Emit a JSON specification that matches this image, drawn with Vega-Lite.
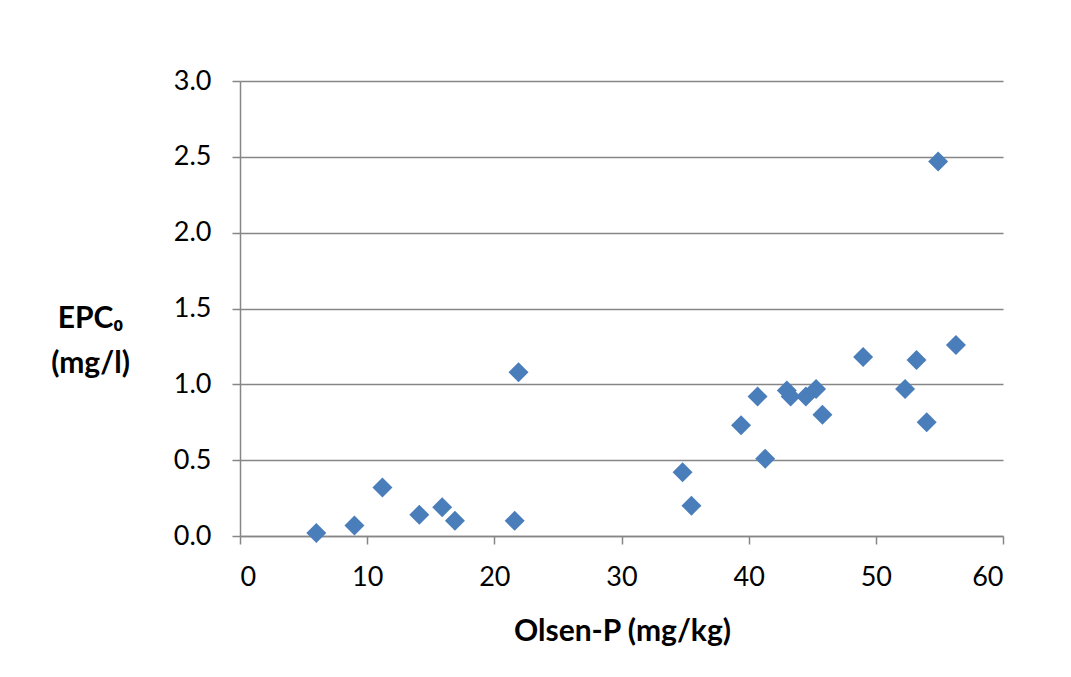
{
  "$schema": "https://vega.github.io/schema/vega-lite/v6.json",
  "width": 763,
  "height": 455,
  "autosize": {"type": "none"},
  "padding": {"left": 240, "top": 81, "right": 68, "bottom": 141},
  "background": "white",
  "data": {
    "values": [
      {"olsen_p": 6.0, "epc0": 0.02},
      {"olsen_p": 9.0, "epc0": 0.07},
      {"olsen_p": 11.2, "epc0": 0.32},
      {"olsen_p": 14.1, "epc0": 0.14},
      {"olsen_p": 15.9, "epc0": 0.19},
      {"olsen_p": 16.9, "epc0": 0.10},
      {"olsen_p": 21.6, "epc0": 0.10},
      {"olsen_p": 21.9, "epc0": 1.08},
      {"olsen_p": 34.8, "epc0": 0.42},
      {"olsen_p": 35.5, "epc0": 0.20},
      {"olsen_p": 39.4, "epc0": 0.73},
      {"olsen_p": 40.7, "epc0": 0.92},
      {"olsen_p": 41.3, "epc0": 0.51},
      {"olsen_p": 43.0, "epc0": 0.96},
      {"olsen_p": 43.3, "epc0": 0.92},
      {"olsen_p": 44.5, "epc0": 0.92},
      {"olsen_p": 45.3, "epc0": 0.97},
      {"olsen_p": 45.8, "epc0": 0.80},
      {"olsen_p": 49.0, "epc0": 1.18},
      {"olsen_p": 52.3, "epc0": 0.97},
      {"olsen_p": 53.2, "epc0": 1.16},
      {"olsen_p": 54.0, "epc0": 0.75},
      {"olsen_p": 54.9, "epc0": 2.47},
      {"olsen_p": 56.3, "epc0": 1.26}
    ]
  },
  "mark": {"type": "point", "shape": "diamond", "filled": true, "size": 400, "color": "#4A7EBB", "opacity": 1},
  "encoding": {
    "x": {
      "field": "olsen_p",
      "type": "quantitative",
      "scale": {"domain": [0, 60], "nice": false, "zero": true},
      "axis": {
        "values": [0, 10, 20, 30, 40, 50, 60],
        "grid": false,
        "title": "Olsen-P (mg/kg)",
        "titleX": 382,
        "titleY": 104,
        "titleAlign": "center",
        "titleBaseline": "alphabetic",
        "labelPadding": 20
      }
    },
    "y": {
      "field": "epc0",
      "type": "quantitative",
      "scale": {"domain": [0, 3], "nice": false},
      "axis": {
        "values": [0, 0.5, 1, 1.5, 2, 2.5, 3],
        "format": ".1f",
        "grid": true,
        "title": ["EPC₀", "(mg/l)"],
        "titleAngle": 0,
        "titleX": -150,
        "titleY": 246,
        "titleAlign": "center",
        "titleBaseline": "alphabetic",
        "titleLineHeight": 45,
        "labelPadding": 21
      }
    }
  },
  "config": {
    "view": {"stroke": null},
    "axis": {
      "domainColor": "#868686",
      "domainWidth": 1.5,
      "tickColor": "#868686",
      "tickWidth": 1.5,
      "tickSize": 8,
      "gridColor": "#868686",
      "gridWidth": 1.5,
      "labelFont": "Lato",
      "labelFontSize": 27,
      "labelColor": "#000000",
      "titleFont": "Lato",
      "titleFontSize": 30,
      "titleFontWeight": "bold",
      "titleColor": "#000000"
    }
  }
}
